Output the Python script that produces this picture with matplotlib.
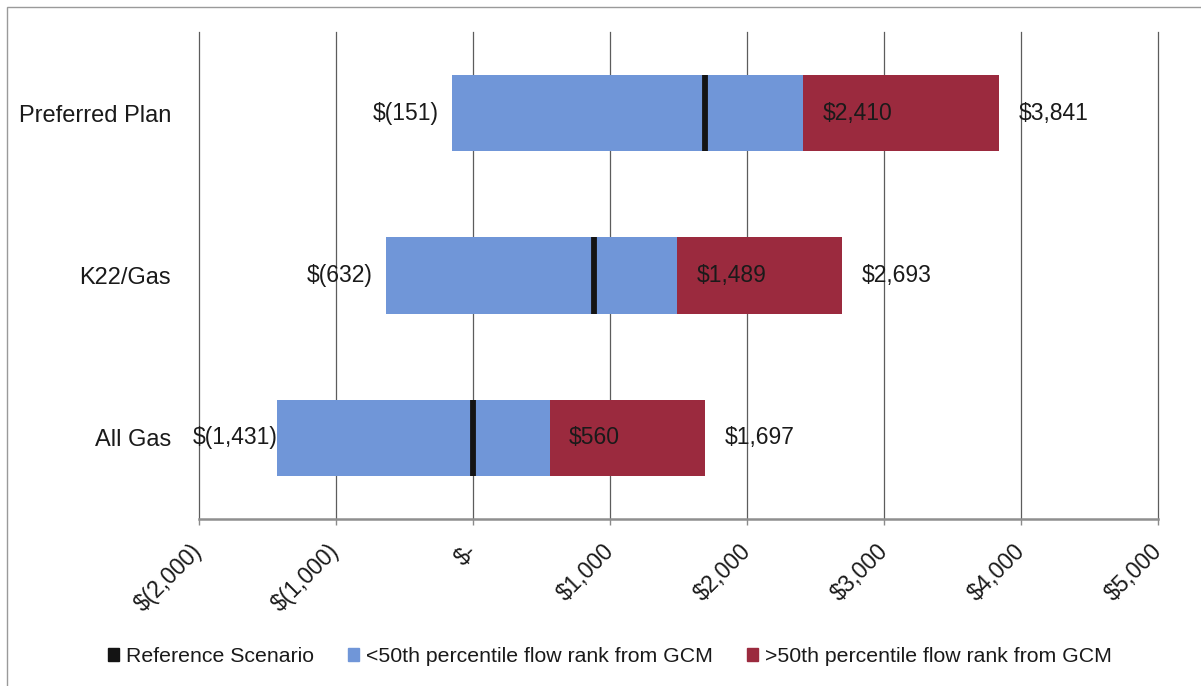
import matplotlib
matplotlib.use("Agg")
import matplotlib.pyplot as plt
from matplotlib.patches import Patch, Rectangle

# plan names, top to bottom
plans = ["Preferred Plan", "K22/Gas", "All Gas"]
# present value range ($ millions) under the GCM flow scenarios
low_end = [-151, -632, -1431]       # start of the <50th percentile band
median_split = [2410, 1489, 560]    # where the >50th percentile band starts
high_end = [3841, 2693, 1697]       # top of the >50th percentile band
reference = [1690, 885, 0]          # reference scenario result

x_ticks = [-2000, -1000, 0, 1000, 2000, 3000, 4000, 5000]
x_ticklabels = ["$(2,000)", "$(1,000)", "$-", "$1,000", "$2,000",
                "$3,000", "$4,000", "$5,000"]

BLUE = "#7096d8"
RED = "#9b2a3e"
BLACK = "#141414"
TXT = "#1a1a1a"
FS = 16.5

plt.rcParams["font.family"] = ["Liberation Sans", "DejaVu Sans"]


def money(v):
    if v < 0:
        return f"$({abs(v):,})"
    return f"${v:,}"


fig = plt.figure(figsize=(12.01, 6.86), dpi=100)
fig.patch.set_facecolor("white")

# thin outer frame around the chart area
fig.patches.append(Rectangle((7 / 1201, -0.02), 1.02, (686 - 7) / 686 + 0.02,
                             transform=fig.transFigure, fill=False,
                             edgecolor="#9a9a9a", lw=1.0))

ax = fig.add_axes([199 / 1201, 1 - 519 / 686, (1158 - 199) / 1201, (519 - 32) / 686])

ypos = list(range(len(plans)))
bar_h = 0.47

lo_w = [m - l for l, m in zip(low_end, median_split)]
hi_w = [h - m for m, h in zip(median_split, high_end)]
ax.barh(ypos, lo_w, left=low_end, height=bar_h, color=BLUE, zorder=3)
ax.barh(ypos, hi_w, left=median_split, height=bar_h, color=RED, zorder=3)

# reference scenario marker inside each bar
for y, r in zip(ypos, reference):
    ax.plot([r, r], [y - bar_h / 2, y + bar_h / 2], color=BLACK, lw=4.2,
            solid_capstyle="butt", zorder=4)

ax.set_xlim(-2000, 5000)
ax.set_ylim(len(plans) - 0.5, -0.5)

ax.set_xticks(x_ticks)
ax.set_xticklabels(x_ticklabels, rotation=45, ha="right", va="center",
                   rotation_mode="anchor", fontsize=FS, color=TXT)
ax.tick_params(axis="x", direction="out", length=4.5, width=1.0,
               color="#8a8a8a", pad=16)
ax.set_yticks(ypos)
ax.set_yticklabels(plans, fontsize=FS + 0.5, color=TXT)
ax.tick_params(axis="y", length=0, pad=20)

ax.grid(axis="x", color="#5c5c5c", lw=0.9, zorder=1)
# edge gridlines sit on the axes border, don't let them get clipped in half
for gl in ax.get_xgridlines():
    gl.set_clip_on(False)
for side in ("top", "right", "left"):
    ax.spines[side].set_visible(False)
ax.spines["bottom"].set_color("#8f8f8f")
ax.spines["bottom"].set_linewidth(1.8)

# value labels
left_lbls = []
for y, l, m, h in zip(ypos, low_end, median_split, high_end):
    t = ax.annotate(money(l), (l, y), xytext=(-10, 0), textcoords="offset points",
                    ha="right", va="center", fontsize=FS, color=TXT, zorder=5)
    left_lbls.append(t)
    ax.annotate(money(m), (m, y), xytext=(14, 0), textcoords="offset points",
                ha="left", va="center", fontsize=FS, color=TXT, zorder=5)
    ax.annotate(money(h), (h, y), xytext=(14, 0), textcoords="offset points",
                ha="left", va="center", fontsize=FS, color=TXT, zorder=5)

# keep the left labels from running too far past the plot's left edge
fig.canvas.draw()
rend = fig.canvas.get_renderer()
ax_left = ax.get_window_extent(rend).x0
for t in left_lbls:
    bb = t.get_window_extent(rend)
    limit = ax_left - 6
    if bb.x0 < limit:
        shift = (limit - bb.x0) * 72 / fig.dpi
        t.set_position((-10 + shift, 0))

handles = [Patch(color=BLACK), Patch(color=BLUE), Patch(color=RED)]
names = ["Reference Scenario", "<50th percentile flow rank from GCM",
         ">50th percentile flow rank from GCM"]
fig.legend(handles, names, loc="center", bbox_to_anchor=(0.508, 0.043),
           ncol=3, frameon=False, fontsize=15.3, handlelength=0.5,
           handleheight=0.5, handletextpad=0.35, columnspacing=1.6,
           labelcolor=TXT)

fig.savefig("out.png", dpi=100, facecolor=fig.get_facecolor())
